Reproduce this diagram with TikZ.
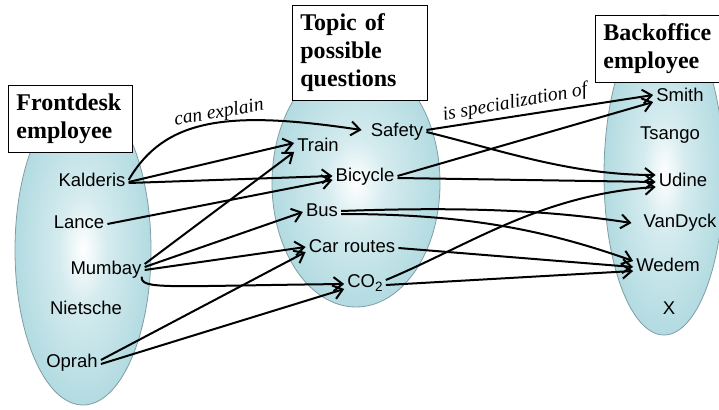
\documentclass[tikz,border=0pt]{standalone}
\usepackage{fontspec}
\setmainfont{Liberation Serif}
\newfontfamily\titlefont{Liberation Serif}
\newfontfamily\labelfont{Liberation Sans}
\usetikzlibrary{arrows.meta,shapes.geometric}
\definecolor{ovalblue}{HTML}{B2DBE1}
\definecolor{ovalline}{HTML}{7F9EA3}
\pgfdeclareradialshading{ovalglow}{\pgfpoint{0bp}{0bp}}{color(0bp)=(white); color(9bp)=(ovalblue!55); color(25bp)=(ovalblue); color(50bp)=(ovalblue)}
\tikzset{
  oval/.style={ellipse,draw=ovalline,line width=0.8pt,shading=ovalglow,inner sep=0pt},
  titlebox/.style={draw,fill=white,line width=0.8pt,anchor=north west,align=left,inner xsep=8pt,font=\titlefont\bfseries\fontsize{24}{28}\selectfont},
  item/.style={font=\labelfont\fontsize{18.5}{21}\selectfont,inner xsep=3pt,inner ysep=1pt,text height=13pt,text depth=4pt},
  rel/.style={font=\titlefont\itshape\fontsize{19.5}{22}\selectfont,rotate=10,inner sep=0pt},
  link/.style={-{Straight Barb[length=9pt,width=14pt]},line width=2pt,black}}

\begin{document}
\begin{tikzpicture}[x=1pt,y=-1pt]
  \clip (0,0) rectangle (719,409);
  % the three groups
  \node[oval,minimum width=136pt,minimum height=310pt] (frontoval) at (83,250) {};
  \node[oval,minimum width=168pt,minimum height=248pt] (topicoval) at (356,183) {};
  \node[oval,minimum width=120pt,minimum height=320pt] (backoval) at (664,175) {};
  \node[titlebox,text width=108pt,minimum height=67pt] (fronttitle) at (8,85) {Frontdesk\\employee};
  \node[titlebox,text width=119pt,minimum height=95pt] (topictitle) at (292,5) {Topic of\\possible\\questions};
  \node[titlebox,text width=130pt,minimum height=67pt] (backtitle) at (595,15) {Backoffice\\employee};
  % frontdesk employees
  \node[item] (kalderis) at (92,182) {Kalderis};
  \node[item] (lance) at (79,224) {Lance};
  \node[item] (mumbay) at (106,270) {Mumbay};
  \node[item] (nietsche) at (86,310) {Nietsche};
  \node[item] (oprah) at (72,363) {Oprah};
  % topics
  \node[item] (safety) at (397,132) {Safety};
  \node[item] (train) at (318,147) {Train};
  \node[item] (bicycle) at (365,177) {Bicycle};
  \node[item] (bus) at (322,212) {Bus};
  \node[item] (carroutes) at (352,248) {Car routes};
  \node[item] (cotwo) at (365,283) {CO\raisebox{-4pt}{\fontsize{13.5}{13.5}\selectfont 2}};
  % backoffice employees
  \node[item] (smith) at (680,97) {Smith};
  \node[item] (tsango) at (670,135) {Tsango};
  \node[item] (udine) at (683,182) {Udine};
  \node[item] (vandyck) at (680,223) {VanDyck};
  \node[item] (wedem) at (668,267) {Wedem};
  \node[item] (xemp) at (669,310) {X};
  \node[rel] (explain) at (219,113) {can explain};
  \node[rel] (special) at (515,103) {is specialization of};
  % frontdesk -> topics
  \draw[link] ([yshift=2pt]kalderis.east) .. controls (165,118) and (228,110) .. ([xshift=-6pt,yshift=2pt]safety.west);
  \draw[link] (kalderis.east) -- ([yshift=4pt]train.west);
  \draw[link] ([yshift=-1pt]kalderis.east) -- ([yshift=1pt]bicycle.west);
  \draw[link] (lance.east) -- ([yshift=-3pt]bicycle.west);
  \draw[link] ([yshift=6pt]mumbay.east) -- ([yshift=-5pt]train.west);
  \draw[link] ([yshift=3pt]mumbay.east) -- (bus.west);
  \draw[link] (mumbay.east) -- ([yshift=1pt]carroutes.west);
  \draw[link] ([xshift=-3pt,yshift=3pt]mumbay.south east) .. controls (141,290) and (165,286) .. ([yshift=-1pt]cotwo.west);
  \draw[link] ([yshift=3pt]oprah.east) -- ([yshift=-4pt]carroutes.west);
  \draw[link] ([yshift=-1pt]oprah.east) -- ([yshift=-6pt]cotwo.west);
  % topics -> backoffice
  \draw[link] ([yshift=2pt]safety.east) -- ([yshift=2pt]smith.west);
  \draw[link] (safety.east) .. controls (500,150) and (570,175) .. ([yshift=7pt]udine.west);
  \draw[link] ([yshift=1pt]bicycle.east) -- ([yshift=-5pt]smith.west);
  \draw[link] ([yshift=-1pt]bicycle.east) -- (udine.west);
  \draw[link] ([yshift=1pt]bus.east) .. controls (480,206) and (560,212) .. ([xshift=-9pt]vandyck.west);
  \draw[link] ([yshift=-2pt]bus.east) .. controls (460,214) and (540,228) .. ([yshift=6pt]wedem.west);
  \draw[link] (carroutes.east) -- (wedem.west);
  \draw[link] ([yshift=3pt]cotwo.east) .. controls (470,245) and (540,195) .. ([yshift=-5pt]udine.west);
  \draw[link] ([yshift=-2pt]cotwo.east) -- ([yshift=-4pt]wedem.west);
\end{tikzpicture}
\end{document}
